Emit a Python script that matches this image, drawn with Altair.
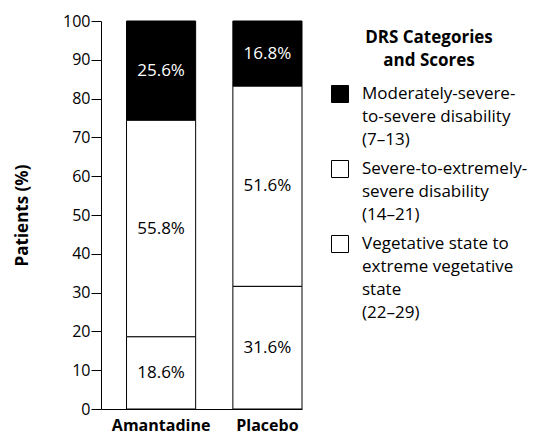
import altair as alt
import pandas as pd

groups = ["Amantadine", "Placebo"]
categories = [
    "Moderately-severe-|to-severe disability|(7–13)",
    "Severe-to-extremely-|severe disability|(14–21)",
    "Vegetative state to|extreme vegetative|state|(22–29)",
]
moderate_pct = [25.6, 16.8]
severe_pct = [55.8, 51.6]
vegetative_pct = [18.6, 31.6]
category_colors = ["black", "white", "white"]
label_colors = ["white", "black", "black"]
y_ticks = list(range(0, 101, 10))

rows = []
for ci, (cat, vals) in enumerate(zip(categories, [moderate_pct, severe_pct, vegetative_pct])):
    for g, v in zip(groups, vals):
        rows.append({"group": g, "category": cat, "value": v,
                     "stack_order": len(categories) - 1 - ci,
                     "label_color": label_colors[ci]})
df = pd.DataFrame(rows)

FONT = "Open Sans"

x_axis = alt.Axis(title=None, labelAngle=0, ticks=False, labelFontSize=16,
                  labelFontWeight="bold", labelPadding=8, domainColor="black",
                  labelColor="black", labelFont=FONT)
y_axis = alt.Axis(values=y_ticks, title="Patients (%)", labelOverlap=False,
                  grid=False, tickSize=10, labelPadding=1, labelFontSize=16,
                  labelColor="black", domainColor="black", tickColor="black",
                  titleFontSize=17, titleFontWeight="bold", titleColor="black",
                  titleX=-79, titleBaseline="middle", labelFont=FONT, titleFont=FONT)
x_scale = alt.Scale(paddingInner=0.35, paddingOuter=0.12, align=1)
y_scale = alt.Scale(domain=[0, 100], nice=False)

bars = alt.Chart(df).mark_bar(stroke="black", strokeWidth=1).encode(
    x=alt.X("group:N", sort=groups, scale=x_scale, axis=x_axis),
    y=alt.Y("value:Q", stack="zero", scale=y_scale, axis=y_axis),
    color=alt.Color(
        "category:N",
        scale=alt.Scale(domain=categories, range=category_colors),
        legend=alt.Legend(
            orient="none", legendX=230, legendY=9,
            title=["DRS Categories", "and Scores"],
            titleFontSize=17, titleFontWeight="bold", titleAnchor="middle",
            titleLineHeight=23, titleColor="black", titleFont=FONT,
            titlePadding=15,
            labelExpr="split(datum.label, '|')",
            labelFontSize=17, labelColor="black", labelFont=FONT,
            labelLimit=260, labelBaseline="middle", labelOffset=13,
            symbolType="square", symbolSize=289, symbolStrokeColor="black",
            symbolStrokeWidth=1, rowPadding=10,
        ),
    ),
    order=alt.Order("stack_order:Q"),
)

labels = alt.Chart(df).transform_stack(
    stack="value", groupby=["group"], as_=["y0", "y1"],
    sort=[alt.SortField("stack_order")],
).transform_calculate(
    mid="(datum.y0 + datum.y1) / 2",
    txt="format(datum.value, '.1f') + '%'",
).mark_text(fontSize=17, font=FONT, baseline="middle").encode(
    x=alt.X("group:N", sort=groups, scale=x_scale, axis=x_axis),
    y=alt.Y("mid:Q", scale=y_scale, axis=y_axis),
    text="txt:N",
    fill=alt.Fill("label_color:N", scale=None, legend=None),
)

chart = alt.layer(bars, labels).properties(
    width=201, height=388,
    autosize=alt.AutoSizeParams(type="none"),
    padding={"left": 93, "top": 13, "right": 232, "bottom": 25},
).configure(
    font=FONT, style={"guide-label": {"lineHeight": 23}}
).configure_view(stroke=None)

chart.save("out.html", embed_options={"renderer": "svg", "actions": False})
